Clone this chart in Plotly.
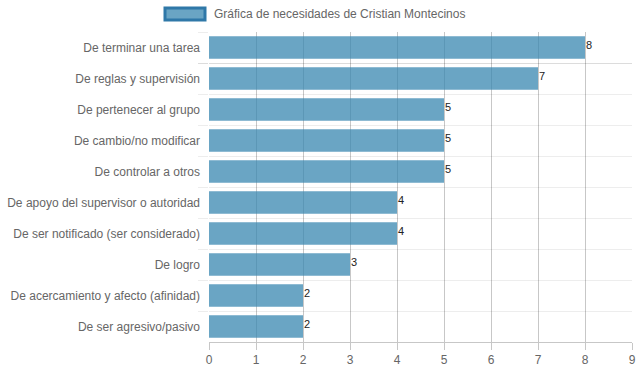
import plotly.graph_objects as go

categories = [
    "De terminar una tarea",
    "De reglas y supervisión",
    "De pertenecer al grupo",
    "De cambio/no modificar",
    "De controlar a otros",
    "De apoyo del supervisor o autoridad",
    "De ser notificado (ser considerado)",
    "De logro",
    "De acercamiento y afecto (afinidad)",
    "De ser agresivo/pasivo",
]
values = [8, 7, 5, 5, 5, 4, 4, 3, 2, 2]
series_name = "Gráfica de necesidades de Cristian Montecinos"
x_ticks = list(range(0, 10))

font_family = "Liberation Sans, Arial, Helvetica, sans-serif"

fig = go.Figure()
fig.add_trace(go.Bar(
    x=values,
    y=categories,
    orientation="h",
    marker=dict(color="rgba(56,135,176,0.75)", line=dict(width=0)),
    showlegend=False,
    hoverinfo="x+y",
))

value_labels = [dict(
    x=v, y=c, xref="x", yref="y", text=str(v),
    xanchor="left", yanchor="middle", showarrow=False,
    xshift=-1, yshift=3,
    font=dict(family=font_family, size=11, color="#222"),
) for c, v in zip(categories, values)]

fig.update_layout(
    width=639, height=372,
    margin=dict(l=209, r=7, t=32, b=30, autoexpand=False),
    paper_bgcolor="white",
    plot_bgcolor="white",
    bargap=0.28,
    font=dict(family=font_family, size=12, color="#666"),
    shapes=[dict(
        type="rect", xref="paper", yref="paper",
        x0=(165 - 209) / 423, x1=(205 - 209) / 423,
        y0=1 + (32 - 20) / 310, y1=1 + (32 - 8) / 310,
        fillcolor="rgba(56,135,176,0.75)",
        line=dict(color="#2f78a8", width=3),
    )],
    annotations=[dict(
        text=series_name, xref="paper", yref="paper",
        x=(212 - 209) / 423, y=1 + (32 - 14) / 310,
        xanchor="left", yanchor="middle", showarrow=False,
        font=dict(family=font_family, size=12, color="#666"),
    )] + value_labels,
)

fig.update_xaxes(
    range=[0, 9],
    tickvals=x_ticks,
    automargin=False,
    ticklabeloverflow="allow",
    showgrid=True,
    gridcolor="rgba(0,0,0,0.22)",
    gridwidth=1,
    zeroline=False,
    showline=True,
    linecolor="rgba(0,0,0,0.22)",
    ticks="outside",
    ticklen=7,
    tickcolor="rgba(0,0,0,0.22)",
    tickfont=dict(size=12, color="#666"),
    fixedrange=True,
)
fig.update_yaxes(
    type="category",
    categoryorder="array",
    categoryarray=categories,
    range=[len(categories) - 0.5, -0.5],
    tickson="boundaries",
    automargin=False,
    ticklabelstandoff=8,
    showgrid=True,
    gridcolor="rgba(0,0,0,0.07)",
    gridwidth=1,
    showline=False,
    ticks="outside",
    ticklen=10,
    tickcolor="rgba(0,0,0,0.07)",
    tickfont=dict(size=12, color="#666"),
    fixedrange=True,
)

fig.write_html(
    "out.html",
    config={"displayModeBar": False},
    post_script="document.body.style.margin='0';document.body.style.overflow='hidden';",
)
